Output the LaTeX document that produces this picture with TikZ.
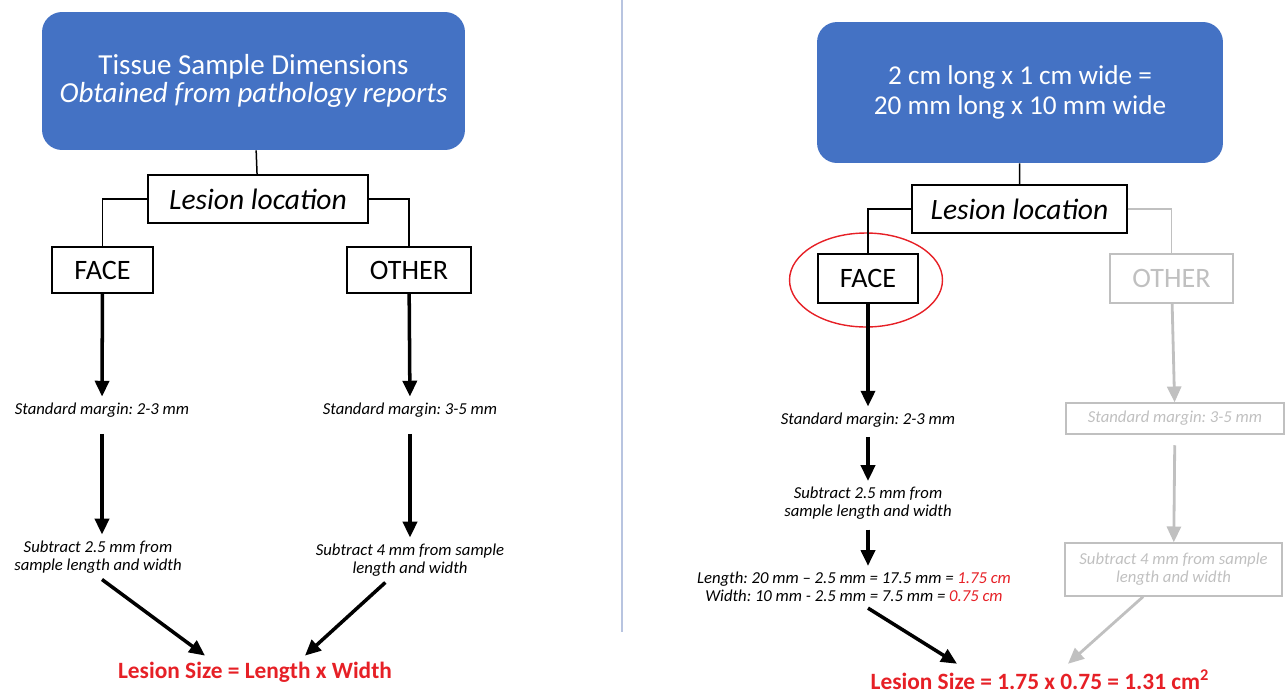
\documentclass[tikz,border=0pt]{standalone}
\usepackage{fontspec}
\setmainfont{Carlito}
\frenchspacing
\usetikzlibrary{arrows.meta,calc,positioning,shapes.geometric}
\definecolor{tsblue}{RGB}{68,114,196}
\definecolor{resred}{RGB}{230,32,38}
\definecolor{fadegray}{RGB}{192,192,192}
\definecolor{divblue}{RGB}{184,196,224}

\begin{document}
\begin{tikzpicture}[x=0.02cm,y=-0.02cm,
  bluebox/.style={fill=tsblue,rounded corners=0.4cm,text=white,align=center},
  locbox/.style={draw,line width=0.8pt,font=\fontsize{16.8}{18}\selectfont\itshape,minimum height=0.96cm},
  sitebox/.style={draw,line width=0.8pt,font=\fontsize{16}{18}\selectfont,minimum height=0.92cm},
  note/.style={font=\fontsize{9.5}{10.3}\selectfont\itshape,align=center},
  result/.style={font=\fontsize{13.3}{15}\selectfont\bfseries,text=resred},
  flow/.style={-{Triangle[length=9pt,width=8pt]},line width=2pt},
  link/.style={line width=0.85pt},
  faded/.style={draw=fadegray,text=fadegray}]
  \useasboundingbox (0,0) rectangle (1288,694);
  \draw[divblue,line width=1.2pt] (622,0) -- (622,632);

  % general rule
  \node[bluebox,font=\fontsize{16.5}{16}\selectfont,minimum width=8.46cm,minimum height=2.76cm] (dims) at (253.5,81) {Tissue Sample Dimensions\\\textit{Obtained from pathology reports}};
  \node[locbox,minimum width=4.4cm] (loc) at (258,199) {Lesion location};
  \node[sitebox,minimum width=2.02cm] (face) at (102.5,270) {FACE};
  \node[sitebox,minimum width=2.48cm] (other) at (409,270) {OTHER};
  \node[note] (mface) at (102,410) {Standard margin: 2-3 mm};
  \node[note] (mother) at (410,410) {Standard margin: 3-5 mm};
  \node[note] (sface) at (98,557) {Subtract 2.5 mm from\\sample length and width};
  \node[note] (sother) at (410,560) {Subtract 4 mm from sample\\length and width};
  \node[result] (size) at (255,672) {Lesion Size = Length x Width};

  \draw[link] (dims) -- (loc);
  \draw[link] (loc.west) -| (face.north);
  \draw[link] (loc.east) -| (other.north);
  \draw[flow] (face) -- (mface);
  \draw[flow] (other) -- (mother);
  \draw[flow,shorten <=6pt] (mface.south) -- (mface.south |- sface.north);
  \draw[flow,shorten <=6pt] (mother) -- (sother);
  \draw[flow] (sface.south -| mface.south) -- ([xshift=-1cm]size.north);
  \draw[flow] (sother) -- ([xshift=1cm]size.north);

  % worked example
  \node[bluebox,font=\fontsize{15.5}{17}\selectfont,minimum width=8.12cm,minimum height=2.82cm] (dims2) at (1020,92.5) {2 cm long x 1 cm wide =\\20 mm long x 10 mm wide};
  \node[locbox,minimum width=4.3cm] (loc2) at (1019.5,209) {Lesion location};
  \node[sitebox,minimum width=2cm,minimum height=0.98cm] (face2) at (868,278.5) {FACE};
  \node[sitebox,faded,minimum width=2.46cm,minimum height=0.98cm] (other2) at (1171.5,278.5) {OTHER};
  \node[ellipse,draw=resred,line width=0.8pt,minimum width=3.06cm,minimum height=1.88cm] (pick) at (866,280) {};
  \node[note] (mface2) at (868,420) {Standard margin: 2-3 mm};
  \node[note] (sface2) at (868,503.5) {Subtract 2.5 mm from\\sample length and width};
  \node[note] (calc) at (854,587) {Length: 20 mm -- 2.5 mm = 17.5 mm = \textcolor{resred}{1.75 cm}\\Width: 10 mm - 2.5 mm = 7.5 mm = \textcolor{resred}{0.75 cm}};
  \node[note,faded,line width=0.8pt,minimum width=4.36cm,minimum height=0.62cm] (mother2) at (1175,418.5) {Standard margin: 3-5 mm};
  \node[note,faded,line width=0.8pt,minimum width=4.34cm,minimum height=1.06cm] (sother2) at (1173.5,569.5) {Subtract 4 mm from sample\\length and width};
  \node[result] (size2) at (1040,680) {Lesion Size = 1.75 x 0.75 = 1.31 cm\textsuperscript{2}};

  \draw[link] (dims2) -- (loc2);
  \draw[link] (loc2.west) -| (face2.north);
  \draw[link,fadegray] (loc2.east) -| (other2.north);
  \draw[flow] (face2) -- (mface2);
  \draw[flow,shorten <=2pt] (mface2) -- (sface2);
  \draw[flow,shorten <=2pt] (sface2.south) -- (sface2.south |- calc.north);
  \draw[flow] (sface2.south |- calc.south) -- ([xshift=-1.66cm]size2.north);
  \draw[flow,fadegray,line width=1.6pt] (other2) -- (mother2);
  \draw[flow,fadegray,line width=1.6pt,shorten <=6pt] (mother2) -- (sother2);
  \draw[flow,fadegray,line width=1.6pt] (sother2) -- ([xshift=0.56cm]size2.north);
\end{tikzpicture}
\end{document}
